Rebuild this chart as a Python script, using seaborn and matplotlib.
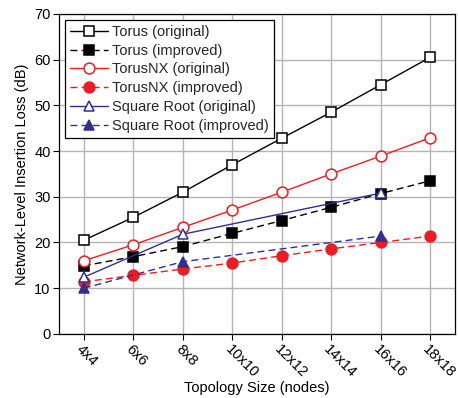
import matplotlib
matplotlib.use("Agg")
import matplotlib.pyplot as plt
import seaborn as sns
import pandas as pd

# Topology sizes on the x axis
sizes = ['4x4', '6x6', '8x8', '10x10', '12x12', '14x14', '16x16', '18x18']

# Insertion loss values (dB)
torus_orig = [20.5, 25.5, 31.0, 37.0, 42.8, 48.5, 54.5, 60.5]
torus_impr = [14.9, 16.9, 19.1, 22.0, 24.8, 27.7, 30.7, 33.5]
torusnx_orig = [16.0, 19.5, 23.3, 27.1, 31.0, 35.0, 38.9, 42.9]
torusnx_impr = [11.4, 12.8, 14.2, 15.5, 17.1, 18.6, 20.0, 21.4]
# Square Root only exists for 4x4, 8x8, 16x16
sqrt_sizes = ['4x4', '8x8', '16x16']
sqrt_orig = [12.4, 21.8, 30.8]
sqrt_impr = [10.0, 15.8, 21.4]

sns.set_theme(style="whitegrid")
plt.rcParams['font.family'] = ['Liberation Sans', 'DejaVu Sans']

red = '#ed1c24'
blue = '#2e3192'

fig, ax = plt.subplots(figsize=(4.58, 3.98), dpi=100)
fig.subplots_adjust(left=0.129, right=0.993, bottom=0.161, top=0.965)

pos = {s: i for i, s in enumerate(sizes)}

series = [
    ('Torus (original)', sizes, torus_orig, 'black', '-', 's', 'white'),
    ('Torus (improved)', sizes, torus_impr, 'black', '--', 's', 'black'),
    ('TorusNX (original)', sizes, torusnx_orig, red, '-', 'o', 'white'),
    ('TorusNX (improved)', sizes, torusnx_impr, red, '--', 'o', red),
    ('Square Root (original)', sqrt_sizes, sqrt_orig, blue, '-', '^', 'white'),
    ('Square Root (improved)', sqrt_sizes, sqrt_impr, blue, '--', '^', blue),
]

for label, xs, ys, color, ls, mk, mfc in series:
    df = pd.DataFrame({'x': [pos[s] for s in xs], 'y': ys})
    sns.lineplot(data=df, x='x', y='y', ax=ax, color=color, linestyle=ls,
                 linewidth=1.0, marker=mk, markersize=7.8, markerfacecolor=mfc,
                 markeredgecolor=color, markeredgewidth=1.1, label=label)
    if ls == '--':
        ax.lines[-1].set_dashes((5, 3))

ax.set_xlim(-0.5, 7.5)
ax.set_ylim(0, 70)
ax.set_xticks(range(len(sizes)))
ax.set_xticklabels(sizes, rotation=-45, ha='left', va='top', rotation_mode='anchor')
ax.set_yticks(range(0, 71, 10))
ax.tick_params(axis='both', which='major', direction='out', length=4, width=0.8,
               color='black', labelsize=10.5, labelcolor='black', pad=2,
               bottom=True, left=True)
ax.grid(True, color='#b4b4b4', linewidth=1.0)
for sp in ax.spines.values():
    sp.set_color('black')
    sp.set_linewidth(0.9)
ax.set_facecolor('white')

ax.set_xlabel('Topology Size (nodes)', fontsize=10.5, color='black', labelpad=0)
ax.set_ylabel('Network-Level Insertion Loss (dB)', fontsize=10.5, color='black', labelpad=4)

leg = ax.legend(loc='upper left', fontsize=10.5, frameon=True, fancybox=False,
                framealpha=1, edgecolor='black', handlelength=2.6,
                borderpad=0.35, labelspacing=0.33, handletextpad=0.3,
                borderaxespad=0.4)
leg.get_frame().set_linewidth(0.9)

fig.savefig('out.png', dpi=100)
